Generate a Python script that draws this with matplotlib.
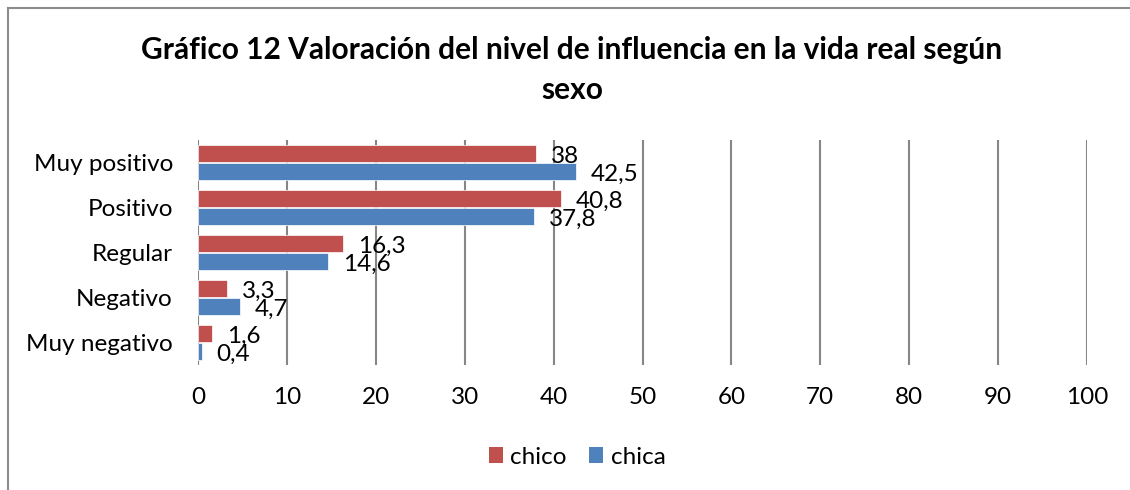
import matplotlib
matplotlib.use("Agg")
import matplotlib.pyplot as plt
from matplotlib.lines import Line2D
from matplotlib.patches import Patch

plt.rcParams['font.family'] = ['Lato', 'DejaVu Sans']

categories = ["Muy negativo", "Negativo", "Regular", "Positivo", "Muy positivo"]
chico = [1.6, 3.3, 16.3, 40.8, 38]
chica = [0.4, 4.7, 14.6, 37.8, 42.5]
chico_labels = ["1,6", "3,3", "16,3", "40,8", "38"]
chica_labels = ["0,4", "4,7", "14,6", "37,8", "42,5"]
xticks = [0, 10, 20, 30, 40, 50, 60, 70, 80, 90, 100]

RED = "#C0504D"
BLUE = "#4F81BD"
GRID = "#868686"
FS = 17.5

W, H = 1130, 490
fig = plt.figure(figsize=(W / 100, H / 100), dpi=100)

# outer frame (top and left visible)
fig.add_artist(Line2D([8 / W, 1], [1 - 8 / H, 1 - 8 / H], color="#8c8c8c", lw=1.5, transform=fig.transFigure))
fig.add_artist(Line2D([8 / W, 8 / W], [0, 1 - 8 / H], color="#8c8c8c", lw=1.5, transform=fig.transFigure))

ax = fig.add_axes([198 / W, 1 - 365 / H, (1087 - 198) / W, (365 - 140) / H])

y = list(range(len(categories)))
off = 0.2
h = 0.36
ax.barh([v + off for v in y], chico, height=h, color=RED, edgecolor="white", linewidth=0.5, zorder=3)
ax.barh([v - off for v in y], chica, height=h, color=BLUE, edgecolor="white", linewidth=0.5, zorder=3)

for yi, val, lab in zip(y, chico, chico_labels):
    ax.annotate(lab, (val, yi + off), xytext=(15, -3), textcoords="offset pixels",
                ha="left", va="center", fontsize=FS, color="black", zorder=4)
for yi, val, lab in zip(y, chica, chica_labels):
    ax.annotate(lab, (val, yi - off), xytext=(15, -3), textcoords="offset pixels",
                ha="left", va="center", fontsize=FS, color="black", zorder=4)

ax.set_xlim(0, 100)
ax.set_ylim(-0.5, 4.5)
ax.set_xticks(xticks)
ax.set_xticklabels([str(t) for t in xticks], fontsize=FS)
ax.set_yticks(y)
ax.set_yticklabels(categories, fontsize=FS)
ax.tick_params(axis="x", length=0, pad=16)
ax.tick_params(axis="y", length=0, pad=18)
for s in ax.spines.values():
    s.set_visible(False)
ax.xaxis.grid(True, color=GRID, lw=1.5, zorder=0)
ax.set_axisbelow(True)

fig.text(572 / W, 1 - 50 / H, "Gráfico 12 Valoración del nivel de influencia en la vida real según",
         ha="center", va="center", fontsize=21.5, fontweight="bold")
fig.text(572 / W, 1 - 90 / H, "sexo", ha="center", va="center", fontsize=21.5, fontweight="bold")

handles = [Patch(facecolor=RED, label="chico"), Patch(facecolor=BLUE, label="chica")]
fig.legend(handles=handles, loc="center", bbox_to_anchor=(577 / W, 1 - 457 / H), ncol=2, frameon=False,
           fontsize=FS, handlelength=0.6, handleheight=0.6, handletextpad=0.3, columnspacing=0.9)

fig.savefig("out.png", dpi=100, facecolor="white")
